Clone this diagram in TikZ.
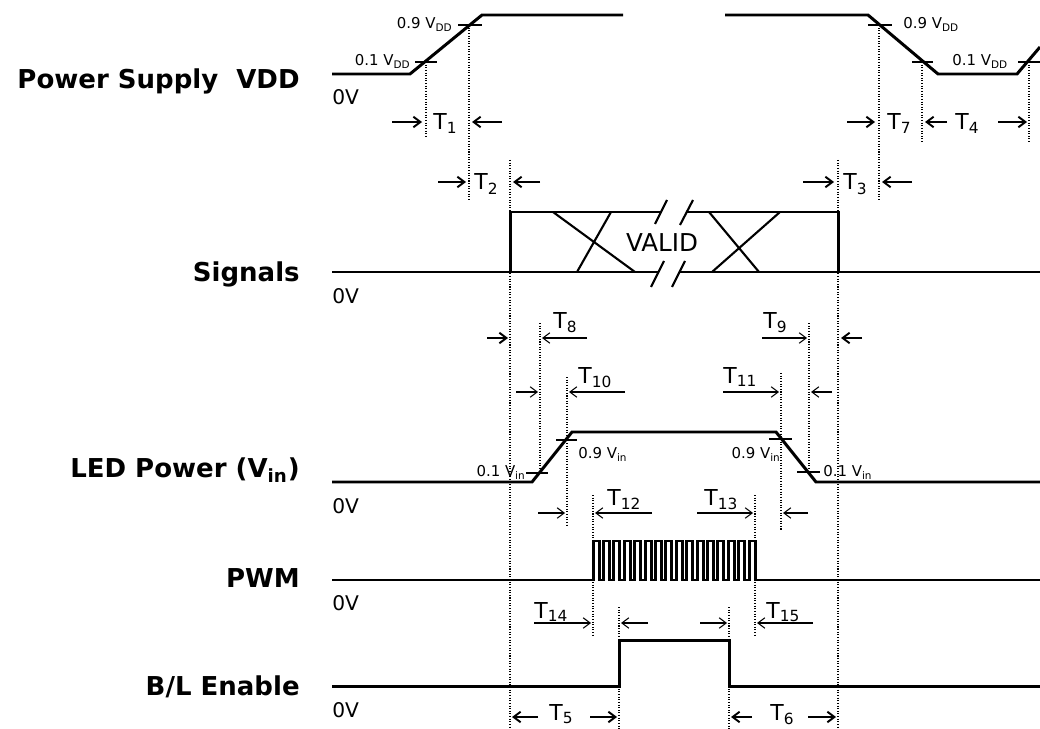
\documentclass[tikz,border=0pt]{standalone}
\usepackage{fontspec}
\setmainfont{DejaVu Sans}
\usetikzlibrary{arrows.meta}

\begin{document}
\begin{tikzpicture}[x=0.02cm,y=-0.02cm,
    trace/.style={line width=1.7pt,line join=miter},
    xline/.style={line width=1.2pt},
    guide/.style={line width=0.6pt,dash pattern=on 0.6pt off 0.9pt},
    dimarrow/.style={line width=1.1pt,-{Straight Barb[length=4pt,width=6pt]}},
    thinarrow/.style={line width=0.6pt,-{Straight Barb[length=4pt,width=6pt]}},
    sigtitle/.style={anchor=base east,inner sep=0pt,font=\fontsize{14.8}{17}\selectfont\bfseries},
    zero/.style={anchor=west,inner sep=0pt,font=\fontsize{11.5}{13}\selectfont},
    tlabel/.style={anchor=base west,inner sep=0pt,font=\fontsize{12.5}{14}\selectfont},
    level/.style={inner sep=0pt,font=\fontsize{8.5}{10}\selectfont}]

\useasboundingbox (0,0) rectangle (1040,729);

% signal names
\node[sigtitle] (psu) at (300,89) {Power Supply \ VDD};
\node[sigtitle] (sig) at (300,281) {Signals};
\node[sigtitle] (led) at (300,477) {LED Power (V\textsubscript{in})};
\node[sigtitle] (pwm) at (300,587) {PWM};
\node[sigtitle] (ble) at (300,695) {B/L Enable};

\node[zero] (zeroA) at (332,97) {0V};
\node[zero] (zeroB) at (332,296) {0V};
\node[zero] (zeroC) at (332,506) {0V};
\node[zero] (zeroD) at (332,603) {0V};
\node[zero] (zeroE) at (332,710) {0V};

% guide lines
\foreach \gx/\gt/\gb in {426/62/138, 469/25/200, 510/160/729, 838/160/729,
    879/25/200, 922/62/142, 1029/62/142, 540/323/473, 809/323/472,
    567/377/526, 781/373/531, 593/495/637, 755/495/637, 619/607/729, 729/607/729}
  \draw[guide] (\gx,\gt) -- (\gx,\gb);

% power supply
\draw[trace] (332,74) -- (410,74) -- (482,15) -- (623,15);
\draw[trace] (725,15) -- (868,15) -- (938,74) -- (1017,74) -- (1040,47);
\draw[xline] (415,62) -- (437,62) (458,25) -- (482,25);
\draw[xline] (868,25) -- (892,25) (912,62) -- (933,62) (1018,62) -- (1040,62);
\node[level,anchor=base east] (vddLoA) at (411,66) {0.1 V\textsubscript{DD}};
\node[level,anchor=base east] (vddHiA) at (453,29) {0.9 V\textsubscript{DD}};
\node[level,anchor=base west] (vddHiB) at (903,29) {0.9 V\textsubscript{DD}};
\node[level,anchor=base west] (vddLoB) at (952,66) {0.1 V\textsubscript{DD}};

% signals
\draw[trace] (332,272) -- (658,272);
\draw[trace] (679,272) -- (1040,272);
\draw[trace] (510,272) -- (510,212) -- (661,212);
\draw[trace] (686,212) -- (838,212) -- (838,272);
\draw[xline] (553,212) -- (635,272) (577,272) -- (611,212);
\draw[xline] (709,212) -- (759,272) (712,272) -- (780,212);
\draw[xline] (655,224) -- (667,200) (680,225) -- (693,200);
\draw[xline] (651,287) -- (664,261) (672,287) -- (685,261);
\node[font=\fontsize{14}{16}\selectfont] (valid) at (662,243) {VALID};

% LED power
\draw[trace] (332,482) -- (532,482) -- (572,432) -- (776,432) -- (816,482) -- (1040,482);
\draw[xline] (526,473) -- (548,473) (556,440) -- (577,440);
\draw[xline] (769,439) -- (792,439) (797,472) -- (820,472);
\node[level,anchor=base east] (vinLoA) at (526,476) {0.1 V\textsubscript{in}};
\node[level,anchor=base west] (vinHiA) at (578,458) {0.9 V\textsubscript{in}};
\node[level,anchor=base east] (vinHiB) at (781,458) {0.9 V\textsubscript{in}};
\node[level,anchor=base west] (vinLoB) at (823,476) {0.1 V\textsubscript{in}};

% PWM
\draw[trace] (332,580) -- (593,580)
  \foreach \k in {1,...,16} { -- ++(0,-39) -- ++(6,0) -- ++(0,39) -- ++(4.4,0) }
  -- (1040,580);

% B/L enable
\draw[trace] (332,686) -- (619,686) -- (619,640) -- (729,640) -- (729,686) -- (1040,686);

% timing arrows
\draw[dimarrow] (392,122) -- (422,122);
\draw[dimarrow] (502,122) -- (472,122);
\node[tlabel] (t1) at (433,130) {T\textsubscript{1}};
\draw[dimarrow] (438,182) -- (466,182);
\draw[dimarrow] (540,182) -- (513,182);
\node[tlabel] (t2) at (474,190) {T\textsubscript{2}};
\draw[dimarrow] (847,122) -- (875,122);
\node[tlabel] (t7) at (887,130) {T\textsubscript{7}};
\draw[dimarrow] (947,122) -- (925,122);
\node[tlabel] (t4) at (955,130) {T\textsubscript{4}};
\draw[dimarrow] (998,122) -- (1027,122);
\draw[dimarrow] (803,182) -- (834,182);
\draw[dimarrow] (912,182) -- (882,182);
\node[tlabel] (t3) at (843,190) {T\textsubscript{3}};

\draw[dimarrow] (487,338) -- (508,338);
\draw[thinarrow] (587,338) -- (542,338);
\node[tlabel] (t8) at (553,328) {T\textsubscript{8}};
\draw[thinarrow] (762,338) -- (807,338);
\node[tlabel] (t9) at (763,328) {T\textsubscript{9}};
\draw[dimarrow] (862,338) -- (841,338);

\draw[thinarrow] (516,392) -- (538,392);
\draw[thinarrow] (625,392) -- (569,392);
\node[tlabel] (t10) at (578,383) {T\textsubscript{10}};
\draw[thinarrow] (723,392) -- (779,392);
\node[tlabel] (t11) at (723,383) {T\textsubscript{11}};
\draw[thinarrow] (832,392) -- (811,392);

\draw[thinarrow] (538,513) -- (565,513);
\draw[thinarrow] (652,513) -- (595,513);
\node[tlabel] (t12) at (607,505) {T\textsubscript{12}};
\draw[thinarrow] (697,513) -- (753,513);
\node[tlabel] (t13) at (704,505) {T\textsubscript{13}};
\draw[thinarrow] (808,513) -- (783,513);

\draw[thinarrow] (534,623) -- (591,623);
\node[tlabel] (t14) at (534,618) {T\textsubscript{14}};
\draw[thinarrow] (648,623) -- (621,623);
\draw[thinarrow] (700,623) -- (727,623);
\draw[thinarrow] (813,623) -- (757,623);
\node[tlabel] (t15) at (766,618) {T\textsubscript{15}};

\draw[dimarrow] (538,717) -- (512,717);
\node[tlabel] (t5) at (549,720) {T\textsubscript{5}};
\draw[dimarrow] (590,717) -- (617,717);
\draw[dimarrow] (752,717) -- (731,717);
\node[tlabel] (t6) at (770,720) {T\textsubscript{6}};
\draw[dimarrow] (808,717) -- (836,717);

\end{tikzpicture}
\end{document}
